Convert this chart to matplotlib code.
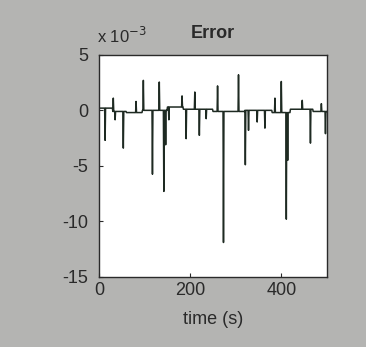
import numpy as np
import matplotlib
matplotlib.use("Agg")
import matplotlib.pyplot as plt

# baseline levels (x 1e-3) between breakpoints
base_edges = [0, 30, 60, 95, 150, 185, 250, 320, 380, 420, 470, 500]
base_levels = [0.2, -0.1, -0.2, 0.0, 0.3, 0.1, -0.1, 0.0, -0.2, 0.1, -0.1]

# spikes: time (s), value (x 1e-3)
spike_t = [13, 31, 35, 53, 81, 97, 117, 132, 142, 146, 153, 182, 191, 210,
           220, 235, 260, 273, 306, 321, 328, 347, 364, 386, 400, 411, 414,
           446, 464, 488, 497]
spike_v = [-2.7, 1.1, -0.85, -3.4, 0.8, 2.7, -5.75, 2.55, -7.3, -3.1, -0.85,
           1.3, -2.55, 1.65, -2.25, -0.75, 2.2, -11.9, 3.2, -4.9, -1.8, -1.05,
           -1.6, 1.1, 2.6, -9.8, -4.5, 0.9, -2.95, 0.6, -2.1]

t = np.arange(0, 501)
err = np.zeros(len(t))
for i in range(len(base_levels)):
    err[(t >= base_edges[i]) & (t < base_edges[i + 1])] = base_levels[i]
err[-1] = base_levels[-1]
for st, sv in zip(spike_t, spike_v):
    err[st] = sv

bg = "#b4b4b2"
ink = "#2a2a2a"
plt.rcParams["font.family"] = ["Liberation Sans", "DejaVu Sans"]
plt.rcParams["axes.unicode_minus"] = False

fig = plt.figure(figsize=(3.66, 3.47), dpi=100, facecolor=bg)
ax = fig.add_axes([0.271, 0.202, 0.622, 0.640])
ax.plot(t, err, color="#1e2a22", linewidth=1.1)
ax.set_xlim(0, 500)
ax.set_ylim(-15, 5)
ax.set_xticks([0, 200, 400])
ax.set_yticks([5, 0, -5, -10, -15])
ax.tick_params(direction="in", length=3, labelsize=13, colors=ink)
ax.tick_params(axis="y", pad=8)
ax.tick_params(axis="x", pad=4)
for s in ax.spines.values():
    s.set_color(ink)
    s.set_linewidth(1.0)
ax.set_xlabel("time (s)", fontsize=13, color=ink, labelpad=8)
ax.set_title("Error", fontsize=13, fontweight="bold", color=ink, pad=12)
ax.text(-0.01, 1.04, r"x 10$^{-3}$", transform=ax.transAxes, fontsize=12,
        color=ink, ha="left", va="bottom")

fig.savefig("out.png", dpi=100, facecolor=bg)
